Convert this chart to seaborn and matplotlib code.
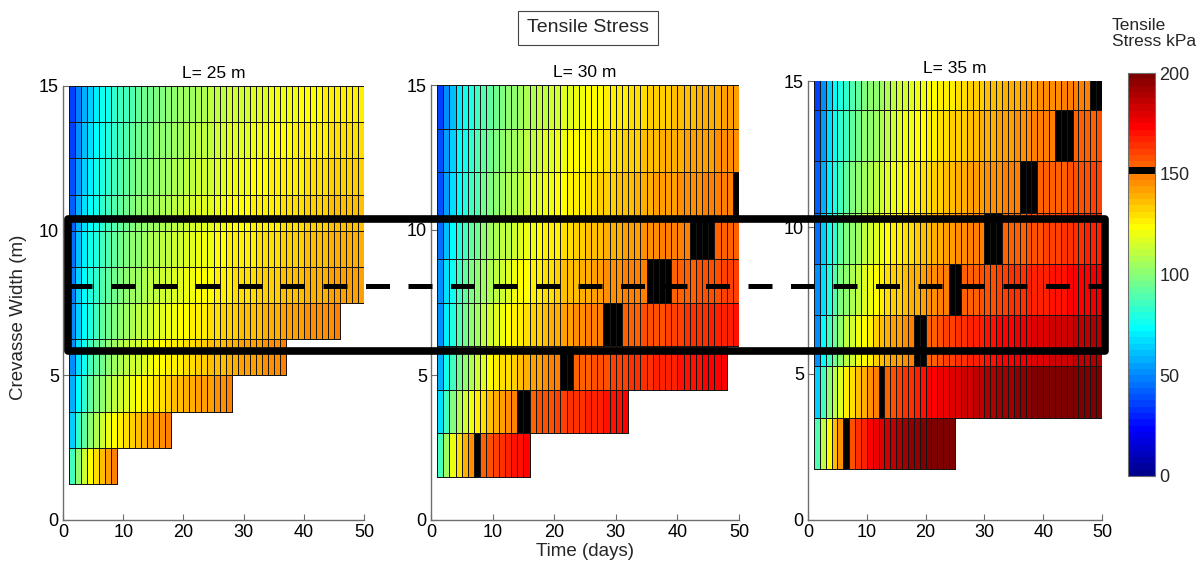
import numpy as np
import pandas as pd
import matplotlib
matplotlib.use("Agg")
import matplotlib.pyplot as plt
import seaborn as sns
from matplotlib.colors import ListedColormap, to_rgba
from matplotlib.patches import Rectangle
from matplotlib.lines import Line2D

sns.set_theme(style="white")
plt.rcParams['font.family'] = ['Liberation Sans', 'DejaVu Sans']

# ---------------- data (tensile stress, kPa, one value per day starting at day 1) -------------
titles = ["L= 25 m", "L= 30 m", "L= 35 m"]
row_heights = [1.25, 1.5, 1.75]
x_ticks = [0, 10, 20, 30, 40, 50]
y_ticks = [0, 5, 10, 15]
stress_ticks = [0, 50, 100, 150, 200]

# L = 25 m, rows keyed by lower crevasse width (m)
L25_w125 = [85, 103, 115, 124, 131, 137, 142, 147]
L25_w250 = [65, 82, 93, 102, 108, 114, 119, 123, 127, 130, 133, 136, 138, 141, 143, 145, 147]
L25_w375 = [57, 73, 83, 91, 97, 102, 107, 111, 114, 117, 120, 123, 125, 127, 129, 131, 133, 135, 136, 138, 139, 141, 142, 143, 145, 146, 147]
L25_w500 = [53, 68, 78, 85, 91, 96, 100, 104, 107, 110, 113, 115, 118, 120, 122, 124, 125, 127, 128, 130, 131, 133, 134, 135, 136, 137, 139, 140, 141, 142, 142, 143, 144, 145, 146, 147]
L25_w625 = [50, 65, 74, 81, 87, 92, 96, 99, 102, 105, 108, 110, 112, 114, 116, 118, 120, 121, 123, 124, 126, 127, 128, 129, 131, 132, 133, 134, 135, 136, 137, 137, 138, 139, 140, 141, 141, 142, 143, 144, 144, 145, 146, 146, 147]
L25_w750 = [49, 63, 72, 79, 84, 89, 92, 96, 99, 102, 104, 106, 108, 110, 112, 114, 115, 117, 118, 120, 121, 122, 123, 124, 126, 127, 128, 129, 129, 130, 131, 132, 133, 134, 134, 135, 136, 137, 137, 138, 139, 139, 140, 141, 141, 142, 142, 143, 143]
L25_w875 = [46, 60, 69, 76, 81, 86, 89, 93, 96, 99, 101, 103, 105, 107, 109, 111, 112, 114, 115, 117, 118, 119, 120, 121, 123, 124, 125, 126, 126, 127, 128, 129, 130, 131, 131, 132, 133, 134, 134, 135, 136, 136, 137, 138, 138, 139, 139, 140, 140]
L25_w1000 = [43, 57, 66, 73, 78, 83, 86, 90, 93, 96, 98, 100, 102, 104, 106, 108, 109, 111, 112, 114, 115, 116, 117, 118, 120, 121, 122, 123, 123, 124, 125, 126, 127, 128, 128, 129, 130, 131, 131, 132, 133, 133, 134, 135, 135, 136, 136, 137, 137]
L25_w1125 = [40, 54, 63, 70, 75, 80, 83, 87, 90, 93, 95, 97, 99, 101, 103, 105, 106, 108, 109, 111, 112, 113, 114, 115, 117, 118, 119, 120, 120, 121, 122, 123, 124, 125, 125, 126, 127, 128, 128, 129, 130, 130, 131, 132, 132, 133, 133, 134, 134]
L25_w1250 = [37, 51, 60, 67, 72, 77, 80, 84, 87, 90, 92, 94, 96, 98, 100, 102, 103, 105, 106, 108, 109, 110, 111, 112, 114, 115, 116, 117, 117, 118, 119, 120, 121, 122, 122, 123, 124, 125, 125, 126, 127, 127, 128, 129, 129, 130, 130, 131, 131]
L25_w1375 = [36, 49, 58, 65, 70, 75, 78, 82, 85, 87, 90, 92, 94, 96, 97, 99, 101, 102, 104, 105, 106, 107, 108, 110, 111, 112, 113, 113, 114, 115, 116, 117, 118, 119, 119, 120, 121, 121, 122, 123, 123, 124, 125, 125, 126, 126, 127, 127, 128]

# L = 30 m
L30_w150 = [85, 106, 120, 130, 138, 145, 151, 156, 159, 162, 164, 166, 169, 170, 172]
L30_w300 = [66, 85, 98, 107, 114, 121, 126, 131, 135, 138, 142, 145, 148, 150, 153, 155, 157, 158, 159, 161, 162, 163, 164, 165, 166, 167, 168, 169, 170, 171, 172]
L30_w450 = [57, 75, 87, 96, 103, 109, 114, 118, 122, 125, 129, 131, 134, 137, 139, 141, 143, 145, 147, 149, 151, 152, 154, 155, 156, 157, 158, 159, 160, 161, 162, 163, 164, 165, 165, 166, 167, 168, 168, 169, 170, 170, 171, 172, 172, 173, 174]
L30_w600 = [53, 70, 81, 89, 96, 102, 106, 110, 114, 117, 120, 123, 126, 128, 130, 132, 134, 136, 138, 139, 141, 143, 144, 145, 147, 148, 149, 150, 151, 152, 154, 155, 156, 157, 158, 159, 159, 160, 161, 162, 163, 164, 164, 165, 166, 167, 167, 168, 169]
L30_w750 = [50, 66, 77, 85, 91, 97, 101, 105, 109, 112, 115, 117, 120, 122, 124, 126, 128, 130, 131, 133, 135, 136, 137, 139, 140, 141, 142, 144, 145, 146, 147, 148, 149, 149, 150, 151, 152, 153, 154, 155, 155, 156, 157, 158, 158, 159, 160, 160, 161]
L30_w900 = [46, 62, 72, 80, 87, 92, 96, 100, 104, 107, 110, 112, 115, 117, 119, 121, 123, 125, 126, 128, 129, 131, 132, 133, 135, 136, 137, 138, 139, 140, 141, 142, 143, 144, 145, 146, 147, 147, 148, 149, 149, 150, 151, 152, 152, 154, 154, 155, 155]
L30_w1050 = [39, 55, 66, 74, 80, 86, 90, 94, 98, 101, 104, 107, 109, 111, 114, 116, 117, 119, 121, 122, 124, 125, 127, 128, 129, 131, 132, 133, 134, 135, 136, 137, 138, 139, 140, 141, 142, 143, 143, 144, 145, 146, 146, 147, 148, 148, 149, 149, 151]
L30_w1200 = [38, 54, 64, 72, 78, 83, 88, 92, 95, 98, 101, 104, 106, 108, 110, 112, 114, 116, 117, 119, 120, 122, 123, 124, 126, 127, 128, 129, 130, 131, 132, 133, 134, 135, 136, 137, 138, 138, 139, 140, 141, 141, 142, 143, 143, 144, 145, 145, 146]
L30_w1350 = [36, 52, 62, 69, 75, 80, 85, 89, 92, 95, 98, 100, 103, 105, 107, 109, 110, 112, 114, 115, 117, 118, 119, 121, 122, 123, 124, 125, 126, 127, 128, 129, 130, 131, 132, 133, 134, 134, 135, 136, 137, 137, 138, 139, 139, 140, 141, 141, 142]

# L = 35 m
L35_w175 = [88, 110, 124, 135, 144, 151, 157, 163, 167, 172, 176, 179, 183, 186, 188, 191, 194, 196, 198, 200, 203, 204, 206, 208]
L35_w350 = [65, 86, 100, 110, 118, 125, 131, 136, 140, 144, 148, 151, 155, 158, 160, 163, 165, 168, 170, 172, 174, 176, 177, 179, 181, 182, 184, 185, 187, 188, 189, 191, 192, 193, 194, 195, 196, 197, 199, 200, 200, 201, 202, 203, 204, 205, 206, 207, 208]
L35_w525 = [53, 73, 86, 96, 103, 110, 115, 120, 124, 128, 132, 135, 138, 141, 143, 146, 148, 150, 152, 154, 156, 158, 160, 161, 163, 164, 166, 167, 168, 170, 171, 172, 173, 174, 175, 177, 178, 179, 180, 181, 182, 182, 183, 184, 185, 186, 187, 188, 188]
L35_w700 = [50, 68, 80, 90, 97, 103, 108, 112, 116, 120, 123, 126, 129, 132, 134, 136, 138, 140, 142, 144, 146, 147, 149, 150, 152, 154, 155, 156, 157, 158, 159, 160, 162, 163, 164, 165, 166, 167, 167, 168, 169, 170, 171, 172, 173, 173, 174, 175, 176]
L35_w875 = [46, 64, 75, 84, 91, 97, 102, 106, 110, 113, 117, 119, 122, 125, 127, 129, 131, 133, 135, 137, 138, 140, 141, 143, 144, 145, 147, 148, 149, 150, 151, 152, 154, 155, 156, 156, 157, 158, 159, 160, 161, 162, 163, 163, 164, 165, 166, 166, 167]
L35_w1050 = [42, 59, 71, 79, 86, 92, 97, 101, 105, 108, 111, 114, 117, 119, 121, 123, 125, 127, 129, 131, 132, 134, 135, 137, 138, 139, 141, 142, 143, 144, 145, 146, 147, 148, 149, 150, 151, 152, 154, 154, 155, 155, 156, 157, 158, 158, 159, 160, 161]
L35_w1225 = [38, 55, 66, 75, 82, 87, 92, 96, 100, 103, 106, 109, 112, 114, 116, 119, 121, 122, 124, 126, 127, 129, 130, 132, 133, 134, 136, 137, 138, 139, 140, 141, 142, 143, 144, 145, 146, 147, 148, 149, 149, 150, 151, 152, 154, 155, 155, 156, 157]
L35_w1400 = [36, 53, 64, 72, 79, 84, 89, 93, 97, 100, 103, 106, 108, 111, 113, 115, 117, 119, 120, 122, 124, 125, 127, 128, 129, 131, 132, 133, 134, 135, 136, 137, 138, 139, 140, 141, 142, 143, 144, 144, 145, 146, 147, 148, 148, 149, 149, 150, 151]

panel_rows = [
    {1.25: L25_w125, 2.5: L25_w250, 3.75: L25_w375, 5.0: L25_w500, 6.25: L25_w625, 7.5: L25_w750,
     8.75: L25_w875, 10.0: L25_w1000, 11.25: L25_w1125, 12.5: L25_w1250, 13.75: L25_w1375},
    {1.5: L30_w150, 3.0: L30_w300, 4.5: L30_w450, 6.0: L30_w600, 7.5: L30_w750, 9.0: L30_w900,
     10.5: L30_w1050, 12.0: L30_w1200, 13.5: L30_w1350},
    {1.75: L35_w175, 3.5: L35_w350, 5.25: L35_w525, 7.0: L35_w700, 8.75: L35_w875, 10.5: L35_w1050,
     12.25: L35_w1225, 14.0: L35_w1400},
]

# ---------------- colormap: MATLAB jet(64) with the 150-153 kPa level in black -------------
def matlab_jet(m=64):
    n = int(np.ceil(m / 4))
    u = np.concatenate([np.arange(1, n + 1) / n, np.ones(n - 1), np.arange(n, 0, -1) / n])
    g = int(np.ceil(n / 2)) - (1 if m % 4 == 1 else 0) + np.arange(1, len(u) + 1)
    r = g + n
    b = g - n
    g = g[g <= m]
    r = r[r <= m]
    b = b[b >= 1]
    J = np.zeros((m, 3))
    J[r - 1, 0] = u[:len(r)]
    J[g - 1, 1] = u[:len(g)]
    J[b - 1, 2] = u[len(u) - len(b):]
    return J

jet = matlab_jet(64)
jet[48] = [0, 0, 0]
cmap = ListedColormap(jet)
cmap.set_bad((0, 0, 0, 0))
cmap.set_over(jet[-1])
cmap.set_under(jet[0])

# ---------------- figure -------------
W, H = 1199, 573
fig = plt.figure(figsize=(W / 100, H / 100), dpi=100)

def fbox(x0, ytop, x1, ybot):
    return [x0 / W, 1 - ybot / H, (x1 - x0) / W, (ybot - ytop) / H]

axes_px = [(63, 86, 364, 520), (431, 85, 739, 520), (808, 81, 1102, 520)]
cax = fig.add_axes(fbox(1128, 73, 1155, 476))
edge_rgba = to_rgba('#151515')
axis_grey = '#6e6e6e'

for i in range(3):
    h = row_heights[i]
    nslots = int(np.ceil(15 / h - 1e-9))
    grid = np.full((nslots, 50), np.nan)
    for lower, vals in panel_rows[i].items():
        slot = int(round(lower / h))
        grid[slot, 1:1 + len(vals)] = vals
    df = pd.DataFrame(grid, columns=list(range(50)))
    ax = fig.add_axes(fbox(*axes_px[i]))
    sns.heatmap(df, ax=ax, cmap=cmap, vmin=0, vmax=200, linewidths=0.6, linecolor='#151515',
                cbar=(i == 2), cbar_ax=(cax if i == 2 else None),
                xticklabels=False, yticklabels=False)
    mesh = ax.collections[0]
    mask = np.isnan(grid).ravel()
    ec = np.zeros((mask.size, 4))
    ec[~mask] = edge_rgba
    mesh.set_edgecolor(ec)
    ax.set_xlim(0, 50)
    ax.set_ylim(0, 15 / h)
    ax.set_xticks(x_ticks)
    ax.set_xticklabels([str(t) for t in x_ticks])
    ax.set_yticks([t / h for t in y_ticks])
    ax.set_yticklabels([str(t) for t in y_ticks])
    for s in ['left', 'bottom']:
        ax.spines[s].set_visible(True)
        ax.spines[s].set_color(axis_grey)
        ax.spines[s].set_linewidth(1.0)
    for s in ['top', 'right']:
        ax.spines[s].set_visible(False)
    ax.tick_params(direction='in', length=4, width=0.8, color=axis_grey, labelsize=13,
                   left=True, bottom=True, pad=3, labelcolor='black')
    ax.set_title(titles[i], fontsize=12.5, pad=6, color='black')
    ax.set_xlabel('')
    ax.set_ylabel('')
    ax.patch.set_alpha(0)

# colorbar styling
cb = fig.axes[-1].collections[0].colorbar
cb.set_ticks(stress_ticks)
cb.set_ticklabels([str(t) for t in stress_ticks])
cb.outline.set_linewidth(0.8)
cb.outline.set_edgecolor(axis_grey)
cax.tick_params(direction='in', length=4, width=0.8, color=axis_grey, labelsize=13, right=True, pad=3)

fig.text(1112 / W, 1 - 18 / H, "Tensile\nStress kPa", ha='left', va='top', fontsize=12.5, linespacing=1.1)

# axis labels
fig.text(19 / W, 1 - 317 / H, "Crevasse Width (m)", rotation=90, ha='center', va='center', fontsize=13.5)
fig.text(585 / W, 1 - 551 / H, "Time (days)", ha='center', va='center', fontsize=13.5)

# figure title in box
fig.text(588 / W, 1 - 28 / H, "Tensile Stress", ha='center', va='center', fontsize=14,
         bbox=dict(boxstyle='square,pad=0.45', fc='white', ec='#444444', lw=0.8))

# highlight rectangle and dashed line
rect = Rectangle((68 / W, 1 - 351 / H), (1105 - 68) / W, (351 - 219.5) / H, transform=fig.transFigure,
                 fill=False, ec='black', lw=5.5, joinstyle='round', zorder=20)
fig.add_artist(rect)
dline = Line2D([67.5 / W, 1101 / W], [1 - 286 / H, 1 - 286 / H], transform=fig.transFigure,
               color='black', lw=3.6, dashes=(4.8, 3.7), solid_capstyle='butt', zorder=20)
fig.add_artist(dline)

fig.savefig("out.png", dpi=100)
